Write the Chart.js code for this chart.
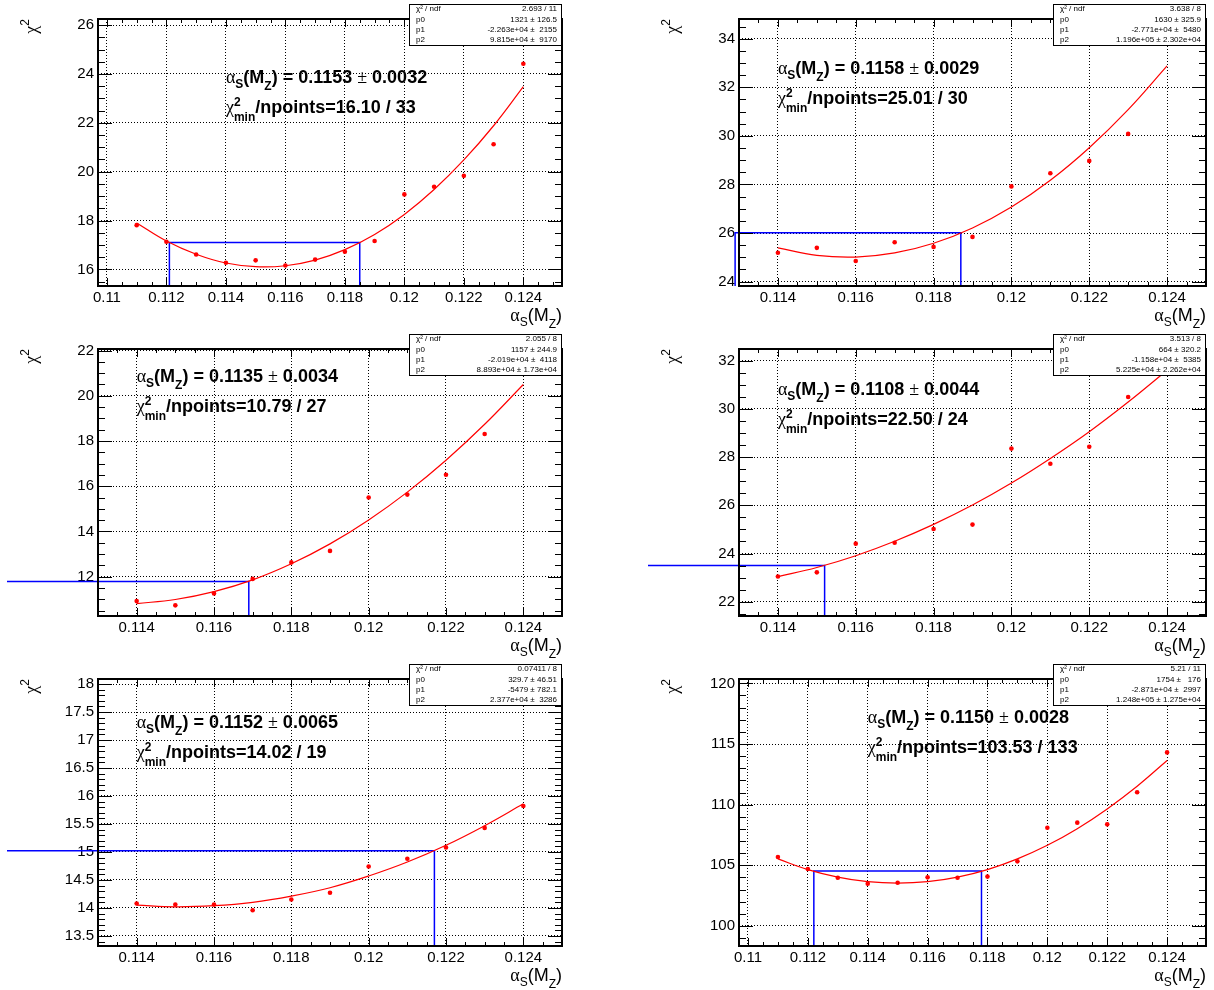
<!DOCTYPE html>
<html>
<head>
<meta charset="utf-8">
<script src="https://cdn.jsdelivr.net/npm/chart.js@4.4.1/dist/chart.umd.min.js"></script>
<style>
    body { margin: 0; background: #fff; width: 1214px; height: 990px; position: relative; overflow: hidden; }
    canvas { position: absolute; }
</style>
</head>
<body>
<canvas id="c1" width="641" height="330" style="left:7px;top:0px"></canvas>
<canvas id="c2" width="566" height="330" style="left:648px;top:0px"></canvas>
<canvas id="c3" width="641" height="330" style="left:7px;top:330px"></canvas>
<canvas id="c4" width="566" height="330" style="left:648px;top:330px"></canvas>
<canvas id="c5" width="641" height="330" style="left:7px;top:660px"></canvas>
<canvas id="c6" width="566" height="330" style="left:648px;top:660px"></canvas>
<script>
// alpha_s scan points
const xWide = [0.111, 0.112, 0.113, 0.114, 0.115, 0.116, 0.117, 0.118, 0.119, 0.120, 0.121, 0.122, 0.123, 0.124];
const xShort = [0.114, 0.115, 0.116, 0.117, 0.118, 0.119, 0.120, 0.121, 0.122, 0.123];
const xLong = [0.114, 0.115, 0.116, 0.117, 0.118, 0.119, 0.120, 0.121, 0.122, 0.123, 0.124];

// chi2 values
const chi2P1 = [17.81, 17.13, 16.61, 16.27, 16.37, 16.16, 16.40, 16.72, 17.16, 19.07, 19.38, 19.83, 21.12, 24.42];
const chi2P2 = [25.19, 25.39, 24.85, 25.62, 25.43, 25.84, 27.92, 28.46, 28.97, 30.08];
const chi2P3 = [10.92, 10.73, 11.26, 11.90, 12.63, 13.14, 15.50, 15.63, 16.51, 18.31];
const chi2P4 = [23.05, 23.22, 24.41, 24.45, 25.02, 25.20, 28.35, 27.72, 28.43, 30.49];
const chi2P5 = [14.08, 14.06, 14.06, 13.96, 14.15, 14.27, 14.74, 14.88, 15.08, 15.43, 15.82];
const chi2P6 = [105.69, 104.70, 103.98, 103.49, 103.57, 104.01, 103.98, 104.07, 105.33, 108.10, 108.52, 108.38, 111.02, 114.31];

// fitted parabola, read at the same alpha_s steps
const fitP1 = [17.90, 17.16, 16.62, 16.26, 16.11, 16.15, 16.38, 16.81, 17.43, 18.25, 19.27, 20.48, 21.88, 23.48];
const fitP2 = [25.39, 25.08, 25.01, 25.18, 25.58, 26.21, 27.07, 28.17, 29.51, 31.08, 32.88];
const fitP3 = [10.81, 10.99, 11.34, 11.86, 12.57, 13.45, 14.51, 15.74, 17.15, 18.74, 20.50];
const fitP4 = [23.04, 23.42, 23.91, 24.51, 25.21, 26.01, 26.92, 27.94, 29.05, 30.28, 31.60];
const fitP5 = [14.05, 14.02, 14.04, 14.10, 14.21, 14.36, 14.57, 14.82, 15.12, 15.47, 15.86];
const fitP6 = [105.53, 104.65, 104.03, 103.65, 103.53, 103.65, 104.03, 104.65, 105.53, 106.65, 108.02, 109.65, 111.52, 113.64];

// fit results per panel
const alphaFit = [0.1153, 0.1158, 0.1135, 0.1108, 0.1152, 0.1150];
const alphaErr = [0.0032, 0.0029, 0.0034, 0.0044, 0.0065, 0.0028];
const chi2Min = [16.10, 25.01, 10.79, 22.50, 14.02, 103.53];
const nPoints = [33, 30, 27, 24, 19, 133];

// stat box contents
const statChi = ['2.693 / 11', '3.638 / 8', '2.055 / 8', '3.513 / 8', '0.07411 / 8', '5.21 / 11'];
const statP0 = ['1321 \u00b1 126.5', '1630 \u00b1 325.9', '1157 \u00b1 244.9', '664 \u00b1 320.2', '329.7 \u00b1 46.51', '1754 \u00b1   176'];
const statP1 = ['-2.263e+04 \u00b1  2155', '-2.771e+04 \u00b1  5480', '-2.019e+04 \u00b1  4118', '-1.158e+04 \u00b1  5385', '-5479 \u00b1 782.1', '-2.871e+04 \u00b1  2997'];
const statP2 = ['9.815e+04 \u00b1  9170', '1.196e+05 \u00b1 2.302e+04', '8.893e+04 \u00b1 1.73e+04', '5.225e+04 \u00b1 2.262e+04', '2.377e+04 \u00b1  3286', '1.248e+05 \u00b1 1.275e+04'];

// tick values
const xTicksWide = [0.110, 0.112, 0.114, 0.116, 0.118, 0.120, 0.122, 0.124];
const xTicksShort = [0.114, 0.116, 0.118, 0.120, 0.122, 0.124];
const yTicksP1 = [16, 18, 20, 22, 24, 26];
const yTicksP2 = [24, 26, 28, 30, 32, 34];
const yTicksP3 = [12, 14, 16, 18, 20, 22];
const yTicksP4 = [22, 24, 26, 28, 30, 32];
const yTicksP5 = [13.5, 14, 14.5, 15, 15.5, 16, 16.5, 17, 17.5, 18];
const yTicksP6 = [100, 105, 110, 115, 120];

const SANS = '"Liberation Sans", Arial, Helvetica, sans-serif';
const SYMF = '"Liberation Serif", "DejaVu Serif", serif';

const panels = [
    { id: 'c1', px: xWide, py: chi2P1, fx: xWide, fy: fitP1, xr: [0.1097, 0.1253], yr: [15.32, 26.25], xt: xTicksWide, yt: yTicksP1, yMajor: 2, yMinor: 0.5, padRight: 86, textDy: 64 },
    { id: 'c2', px: xShort, py: chi2P2, fx: xLong, fy: fitP2, xr: [0.113, 0.125], yr: [23.82, 34.81], xt: xTicksShort, yt: yTicksP2, yMajor: 2, yMinor: 0.5, padRight: 8, textDy: 55 },
    { id: 'c3', px: xShort, py: chi2P3, fx: xLong, fy: fitP3, xr: [0.113, 0.125], yr: [10.26, 22.07], xt: xTicksShort, yt: yTicksP3, yMajor: 2, yMinor: 0.5, padRight: 86, textDy: 33 },
    { id: 'c4', px: xShort, py: chi2P4, fx: xLong, fy: fitP4, xr: [0.113, 0.125], yr: [21.41, 32.48], xt: xTicksShort, yt: yTicksP4, yMajor: 2, yMinor: 0.5, padRight: 8, textDy: 46 },
    { id: 'c5', px: xLong, py: chi2P5, fx: xLong, fy: fitP5, xr: [0.113, 0.125], yr: [13.32, 18.09], xt: xTicksShort, yt: yTicksP5, yMajor: 0.5, yMinor: 0.1, padRight: 86, textDy: 49 },
    { id: 'c6', px: xWide, py: chi2P6, fx: xWide, fy: fitP6, xr: [0.1097, 0.1253], yr: [98.35, 120.36], xt: xTicksWide, yt: yTicksP6, yMajor: 5, yMinor: 1, padRight: 8, textDy: 44 }
];

function seg(t, f, dy) {
    return { t: t, f: f, dy: dy || 0 };
}

function runWidth(ctx, parts) {
    let w = 0;
    parts.forEach(p => {
        if (p.stack) {
            let m = 0;
            p.stack.forEach(s => { ctx.font = s.f; m = Math.max(m, ctx.measureText(s.t).width); });
            w += m;
        } else {
            ctx.font = p.f;
            w += ctx.measureText(p.t).width;
        }
    });
    return w;
}

function drawRun(ctx, x, y, parts) {
    let cx = x;
    parts.forEach(p => {
        if (p.stack) {
            let m = 0;
            p.stack.forEach(s => {
                ctx.font = s.f;
                ctx.fillText(s.t, cx, y + s.dy);
                m = Math.max(m, ctx.measureText(s.t).width);
            });
            cx += m;
        } else {
            ctx.font = p.f;
            ctx.fillText(p.t, cx, y + p.dy);
            cx += ctx.measureText(p.t).width;
        }
    });
}

function drawFrameAndTicks(ctx, chart, cfg) {
    const { left, right, top, bottom } = chart.chartArea;
    const xs = chart.scales.x;
    const ys = chart.scales.y;
    ctx.save();
    ctx.strokeStyle = '#000';
    ctx.lineWidth = 1;
    ctx.beginPath();
    // x ticks, minor every 0.0005
    for (let k = Math.ceil(xs.min / 0.0005 - 1e-6); k * 0.0005 <= xs.max + 1e-9; k++) {
        const v = k * 0.0005;
        const major = Math.abs(v / 0.002 - Math.round(v / 0.002)) < 1e-3;
        const len = major ? 8 : 4;
        const px = Math.round(xs.getPixelForValue(v)) + 0.5;
        ctx.moveTo(px, bottom); ctx.lineTo(px, bottom - len);
        ctx.moveTo(px, top); ctx.lineTo(px, top + len);
    }
    for (let k = Math.ceil(ys.min / cfg.yMinor - 1e-6); k * cfg.yMinor <= ys.max + 1e-9; k++) {
        const v = k * cfg.yMinor;
        const major = Math.abs(v / cfg.yMajor - Math.round(v / cfg.yMajor)) < 1e-3;
        const len = major ? 14 : 7;
        const py = Math.round(ys.getPixelForValue(v)) + 0.5;
        ctx.moveTo(left, py); ctx.lineTo(left + len, py);
        ctx.moveTo(right, py); ctx.lineTo(right - len, py);
    }
    ctx.stroke();
    ctx.lineWidth = 2;
    ctx.strokeRect(left, top, right - left, bottom - top);
    ctx.restore();
}

function drawTitles(ctx, chart) {
    const { left, right, top, bottom } = chart.chartArea;
    ctx.save();
    ctx.fillStyle = '#000';
    ctx.textBaseline = 'alphabetic';
    // x title, right aligned to the frame
    const xt = [seg('\u03b1', '18px ' + SYMF), seg('S', '12px ' + SANS, 5), seg('(M', '18px ' + SANS), seg('Z', '12px ' + SANS, 7), seg(')', '18px ' + SANS)];
    drawRun(ctx, right - runWidth(ctx, xt), bottom + 35, xt);
    // y title, rotated, ending at the frame top
    const yt = [seg('\u03c7', '18px ' + SYMF), seg('2', '12px ' + SANS, -8)];
    ctx.translate(left - 61, top);
    ctx.rotate(-Math.PI / 2);
    drawRun(ctx, -runWidth(ctx, yt), 0, yt);
    ctx.restore();
}

function drawLabel(ctx, chart, cfg, i) {
    const x = chart.scales.x.getPixelForValue(0.114);
    const y = chart.chartArea.top + cfg.textDy;
    const B18 = 'bold 18px ' + SANS;
    const B12 = 'bold 12px ' + SANS;
    const S18 = '18px ' + SYMF;
    const line1 = [seg('\u03b1', S18), seg('S', B12, 5), seg('(M', B18), seg('Z', B12, 7),
        seg(') = ' + alphaFit[i].toFixed(4) + ' ', B18), seg('\u00b1', S18), seg(' ' + alphaErr[i].toFixed(4), B18)];
    const line2 = [seg('\u03c7', S18), { stack: [seg('2', B12, -7), seg('min', B12, 8)] },
        seg('/npoints=' + chi2Min[i].toFixed(2) + ' / ' + nPoints[i], B18)];
    ctx.save();
    ctx.fillStyle = '#000';
    ctx.textBaseline = 'alphabetic';
    drawRun(ctx, x, y, line1);
    drawRun(ctx, x, y + 29.5, line2);
    ctx.restore();
}

function drawStatBox(ctx, chart, i) {
    const right = chart.chartArea.right;
    const left = right - 153;
    const top = 4, h = 41;
    ctx.save();
    ctx.fillStyle = '#fff';
    ctx.fillRect(left, top, right - left, h);
    ctx.strokeStyle = '#000';
    ctx.lineWidth = 1;
    ctx.strokeRect(left + 0.5, top + 0.5, right - left - 1, h);
    ctx.fillStyle = '#000';
    ctx.font = '8px ' + SANS;
    ctx.textBaseline = 'middle';
    const names = ['\u03c7\u00b2 / ndf', 'p0', 'p1', 'p2'];
    const vals = [statChi[i], statP0[i], statP1[i], statP2[i]];
    for (let r = 0; r < 4; r++) {
        const cy = top + h / 4 * (r + 0.5);
        ctx.textAlign = 'left';
        ctx.fillText(names[r], left + 7, cy);
        ctx.textAlign = 'right';
        ctx.fillText(vals[r], right - 5, cy);
    }
    ctx.restore();
}

function makePanel(cfg, i) {
    const points = cfg.px.map((x, k) => ({ x: x, y: cfg.py[k] }));
    const fit = cfg.fx.map((x, k) => ({ x: x, y: cfg.fy[k] }));
    const lo = alphaFit[i] - alphaErr[i];
    const hi = alphaFit[i] + alphaErr[i];
    const level = chi2Min[i] + 1;
    // drawn from the right edge so the library does not trim the off-frame part
    const box = [
        { x: hi, y: cfg.yr[0] }, { x: hi, y: level },
        { x: lo, y: level }, { x: lo, y: cfg.yr[0] }
    ];

    const overlay = {
        id: 'rootOverlay' + i,
        afterDraw(chart) {
            const ctx = chart.ctx;
            drawFrameAndTicks(ctx, chart, cfg);
            drawTitles(ctx, chart);
            drawLabel(ctx, chart, cfg, i);
            drawStatBox(ctx, chart, i);
        }
    };

    const tickFont = { family: 'Liberation Sans', size: 15 };

    new Chart(document.getElementById(cfg.id), {
        type: 'scatter',
        data: {
            datasets: [
                { data: points, backgroundColor: '#ff0000', borderWidth: 0, pointRadius: 2.3 },
                { data: fit, showLine: true, borderColor: '#ff0000', borderWidth: 1.2, pointRadius: 0, tension: 0.4 },
                { data: box, showLine: true, borderColor: '#0000ff', borderWidth: 1.5, pointRadius: 0, tension: 0, clip: false }
            ]
        },
        options: {
            responsive: false,
            animation: false,
            devicePixelRatio: 1,
            events: [],
            layout: { padding: { top: 19, right: cfg.padRight, left: 0, bottom: 0 } },
            plugins: { legend: { display: false }, tooltip: { enabled: false } },
            scales: {
                x: {
                    type: 'linear',
                    min: cfg.xr[0],
                    max: cfg.xr[1],
                    afterBuildTicks: axis => { axis.ticks = cfg.xt.map(v => ({ value: v })); },
                    afterFit: axis => { axis.height = 44; },
                    grid: { color: '#000', lineWidth: 1, drawTicks: false },
                    border: { display: false, dash: [1, 2] },
                    ticks: { font: tickFont, color: '#000', padding: 3, autoSkip: false, maxRotation: 0, minRotation: 0, callback: v => String(v) }
                },
                y: {
                    type: 'linear',
                    min: cfg.yr[0],
                    max: cfg.yr[1],
                    afterBuildTicks: axis => { axis.ticks = cfg.yt.map(v => ({ value: v })); },
                    afterFit: axis => { axis.width = 91; },
                    grid: { color: '#000', lineWidth: 1, drawTicks: false },
                    border: { display: false, dash: [1, 2] },
                    ticks: { font: tickFont, color: '#000', padding: 4, autoSkip: false, callback: v => String(v) }
                }
            }
        },
        plugins: [overlay]
    });
}

panels.forEach(makePanel);
</script>
</body>
</html>
